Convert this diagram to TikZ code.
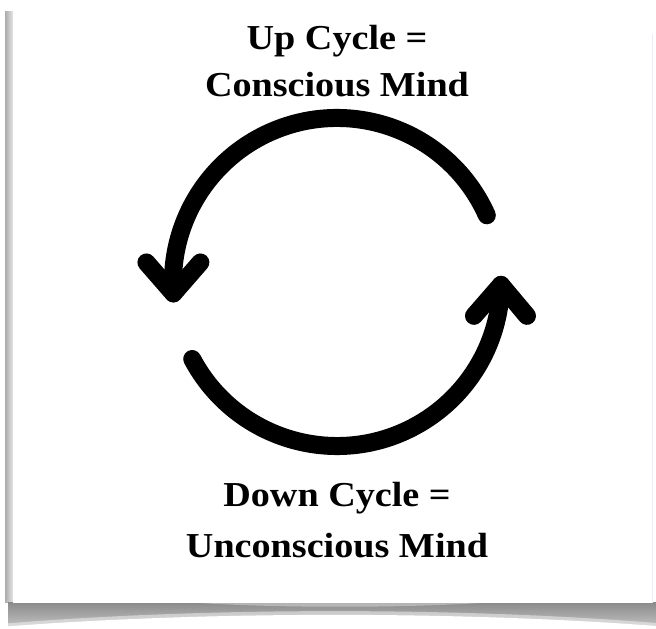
\documentclass[tikz,border=0pt]{standalone}
\usepackage{fontspec}
\setmainfont{Liberation Serif}
\usetikzlibrary{calc}
\newcommand\widetxt[1]{\scalebox{1.09}[1]{#1}}
\begin{document}
\begin{tikzpicture}[x=1pt,y=1pt,
  lbl/.style={inner sep=0pt, anchor=base, font=\fontsize{35}{40}\selectfont\bfseries},
  cyc/.style={line width=18pt, line cap=round, line join=round, black}]
\useasboundingbox (0,0) rectangle (656,629);
% left edge shadow
\shade[left color=gray!65, right color=gray!20] (5,26) rectangle (13,617);
% bottom shadow band
\shade[top color=gray!90, bottom color=gray!45] (8,0) rectangle (656,26);
\fill[white, opacity=0.45] (0,0) -- (0,5) .. controls (200,22) and (460,22) .. (656,6) -- (656,0) -- cycle;
\fill[white] (0,0) -- (0,2) .. controls (200,18) and (460,18) .. (656,3) -- (656,0) -- cycle;
\fill[white, opacity=0.35] (200,26) .. controls (280,21) and (400,21) .. (480,26) -- cycle;
% card
\fill[white] (13,26) rectangle (652,617);
\draw[blue!8, line width=0.6pt] (652.5,26) -- (652.5,595);
% labels
\node[lbl] (up1) at (337,579) {\widetxt{Up Cycle =}};
\node[lbl] (up2) at (337,532) {\widetxt{Conscious Mind}};
\node[lbl] (dn1) at (337,122) {\widetxt{Down Cycle =}};
\node[lbl] (dn2) at (337,71) {\widetxt{Unconscious Mind}};
% cycle arrows
\coordinate (c) at (337,347);
\coordinate (ttip) at ($(c)+(184:164)$);
\coordinate (btip) at ($(c)+(-1:164)$);
\draw[cyc] ($(c)+(24:164)$) arc[start angle=24, end angle=184, radius=164];
\draw[cyc] ($(ttip)+(-27,31)$) -- (ttip) -- ($(ttip)+(27,31)$);
\draw[cyc] ($(c)+(208:164)$) arc[start angle=208, end angle=359, radius=164];
\draw[cyc] ($(btip)+(-27,-31)$) -- (btip) -- ($(btip)+(26,-31)$);
\end{tikzpicture}
\end{document}
